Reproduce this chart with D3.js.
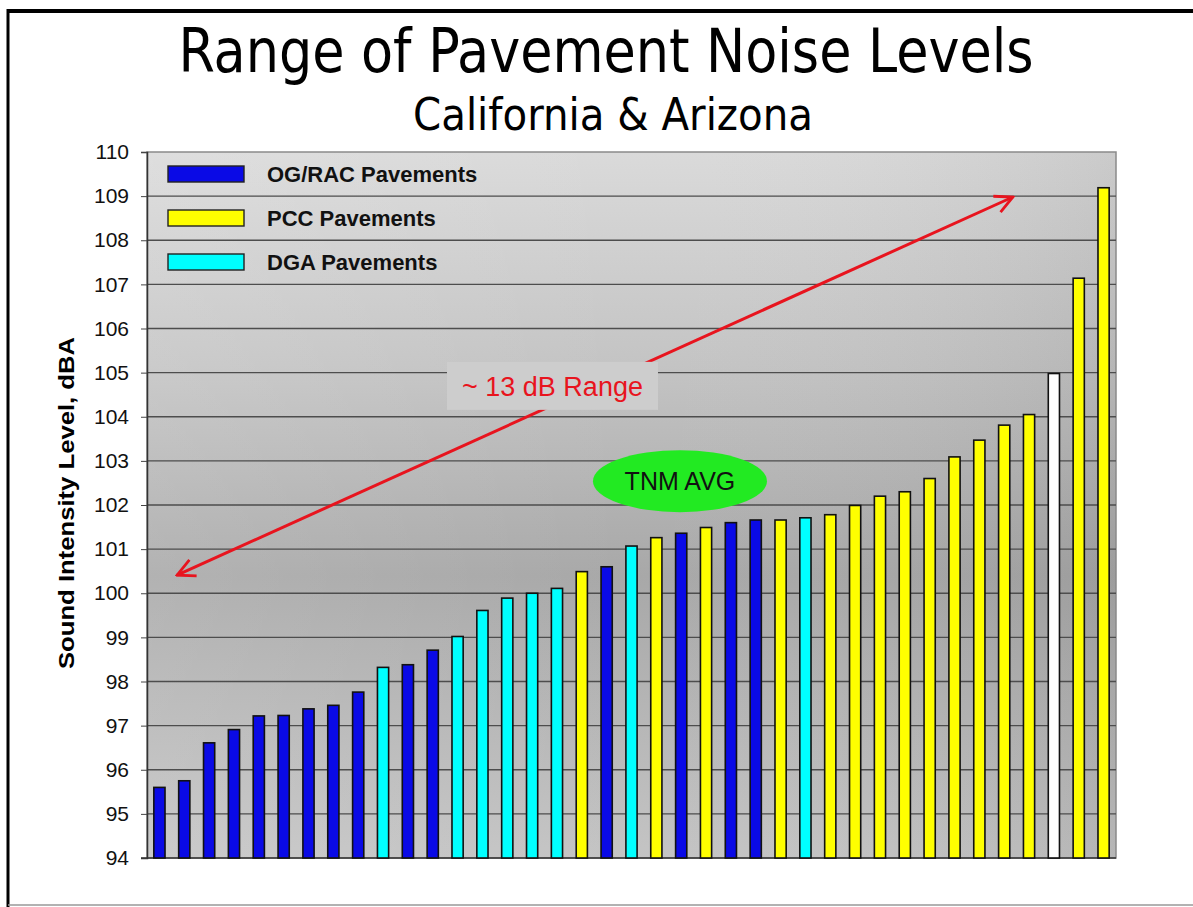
<!DOCTYPE html>
<html>
<head>
<meta charset="utf-8">
<script src="https://cdn.jsdelivr.net/npm/d3@7"></script>
<style>
  body { margin: 0; background: #fff; }
  svg { display: block; }
  .tick text { font-family: "Liberation Sans", Arial, sans-serif; }
</style>
</head>
<body>
<svg id="chart" width="1193" height="907"></svg>
<script>
// --- data ---
const barIds = ['1','2','3','4','5','6','7','8','9','10','11','12','13','14','15','16','17','18','19','20',
                '21','22','23','24','25','26','27','28','29','30','31','32','33','34','35','36','37','38','39'];
const noiseLevels = [95.60, 95.75, 96.61, 96.91, 97.22, 97.23, 97.38, 97.46, 97.76, 98.32,
                     98.38, 98.71, 99.02, 99.61, 99.89, 100.00, 100.11, 100.49, 100.60, 101.07,
                     101.26, 101.36, 101.49, 101.60, 101.66, 101.66, 101.71, 101.78, 101.99, 102.20,
                     102.30, 102.60, 103.09, 103.47, 103.81, 104.05, 104.98, 107.14, 109.19];
const pavementTypes = ['OG','OG','OG','OG','OG','OG','OG','OG','OG','DGA',
                       'OG','OG','DGA','DGA','DGA','DGA','DGA','PCC','OG','DGA',
                       'PCC','OG','PCC','OG','OG','PCC','DGA','PCC','PCC','PCC',
                       'PCC','PCC','PCC','PCC','PCC','PCC','Other','PCC','PCC'];
const yTicks = [94, 95, 96, 97, 98, 99, 100, 101, 102, 103, 104, 105, 106, 107, 108, 109, 110];
const legendTypes = ['OG', 'PCC', 'DGA'];
const legendLabels = ['OG/RAC Pavements', 'PCC Pavements', 'DGA Pavements'];

const typeColors = { OG: '#0a0ae6', PCC: '#ffff00', DGA: '#00ffff', Other: '#ffffff' };

const svg = d3.select('#chart');
const W = 1193, H = 907;
const plot = { left: 147, right: 1116, top: 152, bottom: 858 };

// scales
const x = d3.scaleBand()
  .domain(barIds)
  .range([plot.left, plot.right])
  .paddingInner(0.55)
  .paddingOuter(0.275);

const y = d3.scaleLinear()
  .domain([94, 110])
  .range([plot.bottom, plot.top]);

// position along the category axis in "bar units" (for the annotations)
const xPos = d3.scaleLinear().domain([0, barIds.length]).range([plot.left, plot.right]);

// --- gradients ---
const defs = svg.append('defs');
const bg = defs.append('linearGradient').attr('id', 'bgV')
  .attr('x1', 0).attr('y1', 0).attr('x2', 0).attr('y2', 1);
bg.append('stop').attr('offset', 0).attr('stop-color', '#dadada');
bg.append('stop').attr('offset', 0.3).attr('stop-color', '#c4c4c4');
bg.append('stop').attr('offset', 0.6).attr('stop-color', '#a8a8a8');
bg.append('stop').attr('offset', 1).attr('stop-color', '#c4c4c4');

const bgH = defs.append('linearGradient').attr('id', 'bgH')
  .attr('x1', 0).attr('y1', 0).attr('x2', 1).attr('y2', 0);
bgH.append('stop').attr('offset', 0).attr('stop-color', '#ffffff').attr('stop-opacity', 0.12);
bgH.append('stop').attr('offset', 0.5).attr('stop-color', '#ffffff').attr('stop-opacity', 0);
bgH.append('stop').attr('offset', 1).attr('stop-color', '#000000').attr('stop-opacity', 0.07);

// arrow heads
['start', 'end'].forEach(k => {
  defs.append('marker')
    .attr('id', 'head-' + k)
    .attr('viewBox', '0 0 12 12')
    .attr('refX', 11).attr('refY', 6)
    .attr('markerWidth', 7).attr('markerHeight', 7)
    .attr('markerUnits', 'strokeWidth')
    .attr('orient', k === 'start' ? 'auto-start-reverse' : 'auto')
    .append('path')
    .attr('d', 'M1,1 L11,6 L1,11')
    .attr('fill', 'none')
    .attr('stroke', '#e8141e')
    .attr('stroke-width', 1.6);
});

// --- slide frame ---
svg.append('line').attr('x1', 7).attr('x2', W).attr('y1', 11).attr('y2', 11)
  .attr('stroke', '#000').attr('stroke-width', 4);
svg.append('line').attr('x1', 8).attr('x2', 8).attr('y1', 9).attr('y2', H)
  .attr('stroke', '#000').attr('stroke-width', 3);
svg.append('line').attr('x1', 8).attr('x2', W).attr('y1', 905).attr('y2', 905)
  .attr('stroke', '#999').attr('stroke-width', 1.5);

// --- titles ---
svg.append('text')
  .attr('x', 606).attr('y', 72)
  .attr('text-anchor', 'middle')
  .attr('font-family', '"DejaVu Sans Condensed", "DejaVu Sans", sans-serif')
  .attr('font-stretch', 'condensed')
  .attr('font-size', 60)
  .attr('textLength', 855).attr('lengthAdjust', 'spacingAndGlyphs')
  .attr('fill', '#000')
  .text('Range of Pavement Noise Levels');

svg.append('text')
  .attr('x', 613).attr('y', 130)
  .attr('text-anchor', 'middle')
  .attr('font-family', '"DejaVu Sans Condensed", "DejaVu Sans", sans-serif')
  .attr('font-stretch', 'condensed')
  .attr('font-size', 44)
  .attr('textLength', 400).attr('lengthAdjust', 'spacingAndGlyphs')
  .attr('fill', '#000')
  .text('California & Arizona');

// --- plot background ---
svg.append('rect')
  .attr('x', plot.left).attr('y', plot.top)
  .attr('width', plot.right - plot.left).attr('height', plot.bottom - plot.top)
  .attr('fill', 'url(#bgV)');
svg.append('rect')
  .attr('x', plot.left).attr('y', plot.top)
  .attr('width', plot.right - plot.left).attr('height', plot.bottom - plot.top)
  .attr('fill', 'url(#bgH)')
  .attr('stroke', '#8a8a8a').attr('stroke-width', 1.5);

// gridlines
svg.append('g')
  .selectAll('line')
  .data(yTicks.filter(t => t > 94 && t < 110))
  .join('line')
  .attr('x1', plot.left).attr('x2', plot.right)
  .attr('y1', d => y(d)).attr('y2', d => y(d))
  .attr('stroke', '#4d4d4d').attr('stroke-width', 1.3);

// y axis
const yAxis = svg.append('g')
  .attr('transform', `translate(${plot.left},0)`)
  .call(d3.axisLeft(y).tickValues(yTicks).tickFormat(d3.format('d')).tickSize(6).tickPadding(12));
yAxis.select('.domain').attr('stroke', '#333').attr('stroke-width', 1.5);
yAxis.selectAll('.tick line').attr('stroke', '#444');
yAxis.selectAll('.tick text').attr('font-size', 21).attr('fill', '#111');

// bottom axis line
svg.append('line')
  .attr('x1', plot.left - 6).attr('x2', plot.right)
  .attr('y1', plot.bottom).attr('y2', plot.bottom)
  .attr('stroke', '#333').attr('stroke-width', 1.5);

// y axis title
svg.append('text')
  .attr('transform', `translate(74,503) rotate(-90)`)
  .attr('text-anchor', 'middle')
  .attr('font-family', '"Liberation Sans", Arial, sans-serif')
  .attr('font-weight', 'bold')
  .attr('font-size', 22)
  .attr('textLength', 332).attr('lengthAdjust', 'spacingAndGlyphs')
  .attr('fill', '#000')
  .text('Sound Intensity Level, dBA');

// --- bars ---
svg.append('g')
  .selectAll('rect')
  .data(barIds)
  .join('rect')
  .attr('x', d => x(d))
  .attr('width', x.bandwidth())
  .attr('y', (d, i) => y(noiseLevels[i]))
  .attr('height', (d, i) => y(94) - y(noiseLevels[i]))
  .attr('fill', (d, i) => typeColors[pavementTypes[i]])
  .attr('stroke', '#111')
  .attr('stroke-width', 1.6);

// --- legend ---
const legend = svg.append('g');
legendTypes.forEach((t, i) => {
  const ly = 166 + i * 44;
  legend.append('rect')
    .attr('x', 168).attr('y', ly)
    .attr('width', 76).attr('height', 16)
    .attr('fill', typeColors[t])
    .attr('stroke', '#222').attr('stroke-width', 1.4);
  legend.append('text')
    .attr('x', 267).attr('y', ly + 16)
    .attr('font-family', '"Liberation Sans", Arial, sans-serif')
    .attr('font-weight', 'bold')
    .attr('font-size', 22)
    .attr('fill', '#111')
    .text(legendLabels[i]);
});

// --- "~13 dB range" double arrow ---
svg.append('line')
  .attr('x1', xPos(1.21)).attr('y1', y(100.41))
  .attr('x2', xPos(34.85)).attr('y2', y(108.98))
  .attr('stroke', '#e8141e')
  .attr('stroke-width', 3)
  .attr('marker-start', 'url(#head-start)')
  .attr('marker-end', 'url(#head-end)');

const boxW = 211, boxH = 48;
svg.append('rect')
  .attr('x', xPos(16.32) - boxW / 2).attr('y', y(104.70) - boxH / 2)
  .attr('width', boxW).attr('height', boxH)
  .attr('fill', '#cdcdcd');
svg.append('text')
  .attr('x', xPos(16.32)).attr('y', y(104.70) + 10)
  .attr('text-anchor', 'middle')
  .attr('font-family', '"Liberation Sans", Arial, sans-serif')
  .attr('font-size', 27)
  .attr('fill', '#e8141e')
  .text('~ 13 dB Range');

// --- TNM average marker ---
svg.append('ellipse')
  .attr('cx', xPos(21.45)).attr('cy', y(102.54))
  .attr('rx', 87).attr('ry', 31)
  .attr('fill', '#22ea22');
svg.append('text')
  .attr('x', xPos(21.45)).attr('y', y(102.54) + 9)
  .attr('text-anchor', 'middle')
  .attr('font-family', '"Liberation Sans", Arial, sans-serif')
  .attr('font-size', 25)
  .attr('fill', '#111')
  .text('TNM AVG');
</script>
</body>
</html>
